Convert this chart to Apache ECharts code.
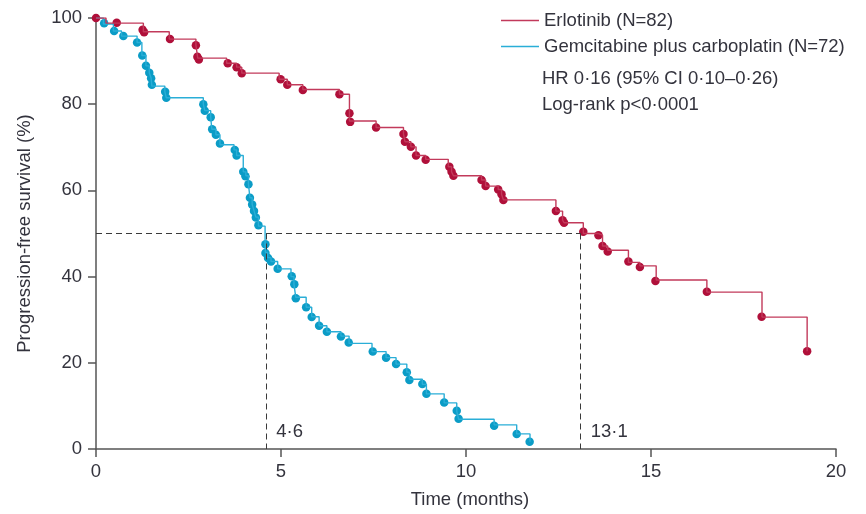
<!DOCTYPE html>
<html>
<head>
<meta charset="utf-8">
<script src="https://cdn.jsdelivr.net/npm/echarts@6/dist/echarts.min.js"></script>
<style>
  html, body { margin: 0; padding: 0; background: #fff; }
  #main { width: 866px; height: 514px; }
</style>
</head>
<body>
<div id="main"></div>
<script>
// Kaplan-Meier progression-free survival
// step curves: [month, % after the drop]
var erlotinibSteps = [
  [0, 100], [0.27, 98.8], [1.28, 96.8], [1.98, 95.1], [2.70, 93.7], [2.75, 90.7],
  [3.53, 89.5], [3.80, 88.6], [3.94, 87.2], [4.95, 85.8], [5.17, 84.5], [5.59, 83.4],
  [6.58, 82.3], [6.85, 76.1], [7.57, 74.6], [8.31, 73.1], [8.35, 71.3], [8.51, 70.1],
  [8.65, 68.1], [8.91, 67.2], [9.52, 65.5], [9.61, 64.3], [9.66, 63.4], [10.42, 62.4],
  [10.53, 61.0], [10.87, 60.2], [10.96, 59.1], [11.01, 57.8], [12.43, 55.2], [12.61, 53.1],
  [12.65, 52.5], [13.17, 50.0], [13.58, 49.6], [13.69, 47.1], [13.83, 46.1], [14.39, 43.3],
  [14.70, 42.5], [15.14, 39.2], [16.51, 36.4], [18.0, 30.6], [19.22, 22.7]
];
var erlotinibMarks = [
  [0, 100], [0.56, 98.9], [1.26, 97.3], [1.30, 96.7], [2.0, 95.1], [2.70, 93.7],
  [2.74, 91.0], [2.78, 90.4], [3.56, 89.5], [3.80, 88.6], [3.94, 87.2], [4.99, 85.8],
  [5.17, 84.5], [5.59, 83.3], [6.58, 82.3], [6.85, 77.9], [6.87, 75.9], [7.57, 74.6],
  [8.31, 73.1], [8.35, 71.3], [8.51, 70.1], [8.65, 68.1], [8.91, 67.1], [9.55, 65.5],
  [9.61, 64.3], [9.66, 63.4], [10.42, 62.4], [10.53, 61.0], [10.87, 60.2], [10.96, 59.1],
  [11.01, 57.8], [12.43, 55.2], [12.61, 53.1], [12.65, 52.5], [13.17, 50.4], [13.58, 49.6],
  [13.69, 47.1], [13.83, 45.8], [14.39, 43.5], [14.70, 42.2], [15.12, 39.0], [16.51, 36.5],
  [17.99, 30.7], [19.22, 22.7]
];
var gemcitabineSteps = [
  [0, 100], [0.20, 98.6], [0.47, 97.0], [0.69, 95.8], [1.11, 94.3], [1.24, 91.3],
  [1.35, 88.9], [1.44, 87.3], [1.49, 86.0], [1.51, 84.2], [1.86, 82.9], [1.90, 81.5],
  [2.90, 80.0], [2.94, 78.5], [3.10, 77.0], [3.13, 74.2], [3.24, 72.9], [3.35, 70.6],
  [3.73, 69.4], [3.80, 68.1], [3.98, 64.3], [4.05, 63.4], [4.12, 61.5], [4.16, 58.3],
  [4.22, 56.8], [4.27, 55.3], [4.32, 53.8], [4.39, 51.7], [4.57, 47.5], [4.58, 45.6],
  [4.64, 44.4], [4.73, 43.5], [4.91, 41.8], [5.27, 40.0], [5.35, 38.2], [5.40, 35.2],
  [5.68, 32.9], [5.83, 30.7], [6.03, 28.6], [6.24, 27.2], [6.62, 26.2], [6.84, 24.5],
  [7.46, 22.6], [7.84, 21.2], [8.11, 19.7], [8.40, 17.8], [8.47, 16.2], [8.82, 15.0],
  [8.93, 12.8], [9.41, 10.7], [9.75, 8.8], [9.80, 6.9], [10.76, 5.6], [11.37, 3.5],
  [11.73, 1.7]
];
var gemcitabineMarks = [
  [0.22, 98.8], [0.49, 97.0], [0.74, 95.8], [1.11, 94.3], [1.25, 91.3], [1.35, 88.9],
  [1.44, 87.3], [1.49, 86.0], [1.51, 84.5], [1.87, 82.9], [1.90, 81.5], [2.90, 80.0],
  [2.94, 78.5], [3.10, 77.0], [3.14, 74.2], [3.24, 72.9], [3.35, 70.9], [3.75, 69.4],
  [3.80, 68.1], [3.98, 64.3], [4.04, 63.3], [4.12, 61.4], [4.16, 58.3], [4.22, 56.7],
  [4.27, 55.2], [4.32, 53.7], [4.39, 51.9], [4.58, 47.5], [4.58, 45.5], [4.65, 44.3],
  [4.73, 43.5], [4.91, 41.8], [5.29, 40.1], [5.36, 38.2], [5.40, 35.0], [5.68, 32.9],
  [5.83, 30.6], [6.03, 28.6], [6.24, 27.2], [6.62, 26.1], [6.83, 24.7], [7.48, 22.6],
  [7.84, 21.2], [8.11, 19.7], [8.40, 17.8], [8.47, 16.0], [8.82, 15.1], [8.93, 12.8],
  [9.41, 10.8], [9.75, 8.9], [9.80, 7.0], [10.76, 5.4], [11.37, 3.5], [11.72, 1.7]
];
var seriesNames = ['Erlotinib (N=82)', 'Gemcitabine plus carboplatin (N=72)'];
var medianTimes = [4.6, 13.1];
var medianLabels = ['4·6', '13·1'];
var statsLines = ['HR 0·16 (95% CI 0·10–0·26)', 'Log-rank p<0·0001'];

var FONT = 'Liberation Sans';
var FS = 18.5;
var TXT = '#33333d';
var RED_LINE = '#c23a5b', RED_DOT = '#b0103a';
var BLUE_LINE = '#2aaed7', BLUE_DOT = '#0b9cc6';

var myChart = echarts.init(document.getElementById('main'));

var dash = { color: '#3a3a3a', width: 1, type: [6, 4] };
var medianLines = [
  [{ coord: [0, 50] }, { coord: [medianTimes[1], 50] }]
];
medianTimes.forEach(function (t) {
  medianLines.push([{ coord: [t, 50] }, { coord: [t, 0] }]);
});

var option = {
  animation: false,
  grid: { left: 96, right: 30, top: 18, bottom: 65 },
  legend: {
    data: seriesNames,
    orient: 'vertical',
    left: 496,
    top: 5,
    icon: 'rect',
    itemWidth: 38,
    itemHeight: 1.5,
    itemGap: 5,
    itemStyle: { opacity: 1 },
    selectedMode: false,
    textStyle: { fontFamily: FONT, fontSize: FS, color: TXT, lineHeight: 21 }
  },
  graphic: statsLines.map(function (s, i) {
    return {
      type: 'text', left: 542, top: 69 + i * 26,
      style: { text: s, fontFamily: FONT, fontSize: FS, fill: TXT }
    };
  }),
  xAxis: {
    type: 'value', min: 0, max: 20, interval: 5,
    name: 'Time (months)', nameLocation: 'middle', nameGap: 41,
    nameTextStyle: { fontFamily: FONT, fontSize: FS, color: TXT, padding: [0, 0, 0, 8] },
    axisLine: { lineStyle: { color: '#555', width: 1.5 } },
    axisTick: { show: true, length: 8, lineStyle: { color: '#555', width: 1.5 } },
    axisLabel: { fontFamily: FONT, fontSize: FS, color: TXT, margin: 13 },
    splitLine: { show: false }
  },
  yAxis: {
    type: 'value', min: 0, max: 100, interval: 20,
    name: 'Progression-free survival (%)', nameLocation: 'middle', nameGap: 62,
    nameTextStyle: { fontFamily: FONT, fontSize: FS, color: TXT },
    axisLine: { show: true, lineStyle: { color: '#555', width: 1.5 } },
    axisTick: { show: true, length: 8, lineStyle: { color: '#555', width: 1.5 } },
    axisLabel: { fontFamily: FONT, fontSize: FS, color: TXT, margin: 14 },
    splitLine: { show: false }
  },
  series: [
    {
      name: seriesNames[1], type: 'line', step: 'end', data: gemcitabineSteps,
      showSymbol: false, color: BLUE_LINE, lineStyle: { width: 1.4, color: BLUE_LINE }
    },
    {
      name: seriesNames[0], type: 'line', step: 'end', data: erlotinibSteps,
      showSymbol: false, color: RED_LINE, lineStyle: { width: 1.4, color: RED_LINE },
      markLine: {
        silent: true, symbol: 'none', label: { show: false },
        lineStyle: dash, data: medianLines
      }
    },
    {
      name: 'gem marks', type: 'scatter', data: gemcitabineMarks,
      symbolSize: 8.5, itemStyle: { color: BLUE_DOT, opacity: 1 }
    },
    {
      name: 'erl marks', type: 'scatter', data: erlotinibMarks,
      symbolSize: 8.5, itemStyle: { color: RED_DOT, opacity: 1 }
    },
    {
      name: 'median labels', type: 'scatter', symbolSize: 0,
      itemStyle: { opacity: 1 },
      data: medianTimes.map(function (t, i) { return { value: [t, 4], name: medianLabels[i] }; }),
      label: {
        show: true, position: 'right', distance: 10, formatter: '{b}',
        fontFamily: FONT, fontSize: FS, color: TXT, opacity: 1
      }
    }
  ]
};

myChart.setOption(option);
</script>
</body>
</html>
